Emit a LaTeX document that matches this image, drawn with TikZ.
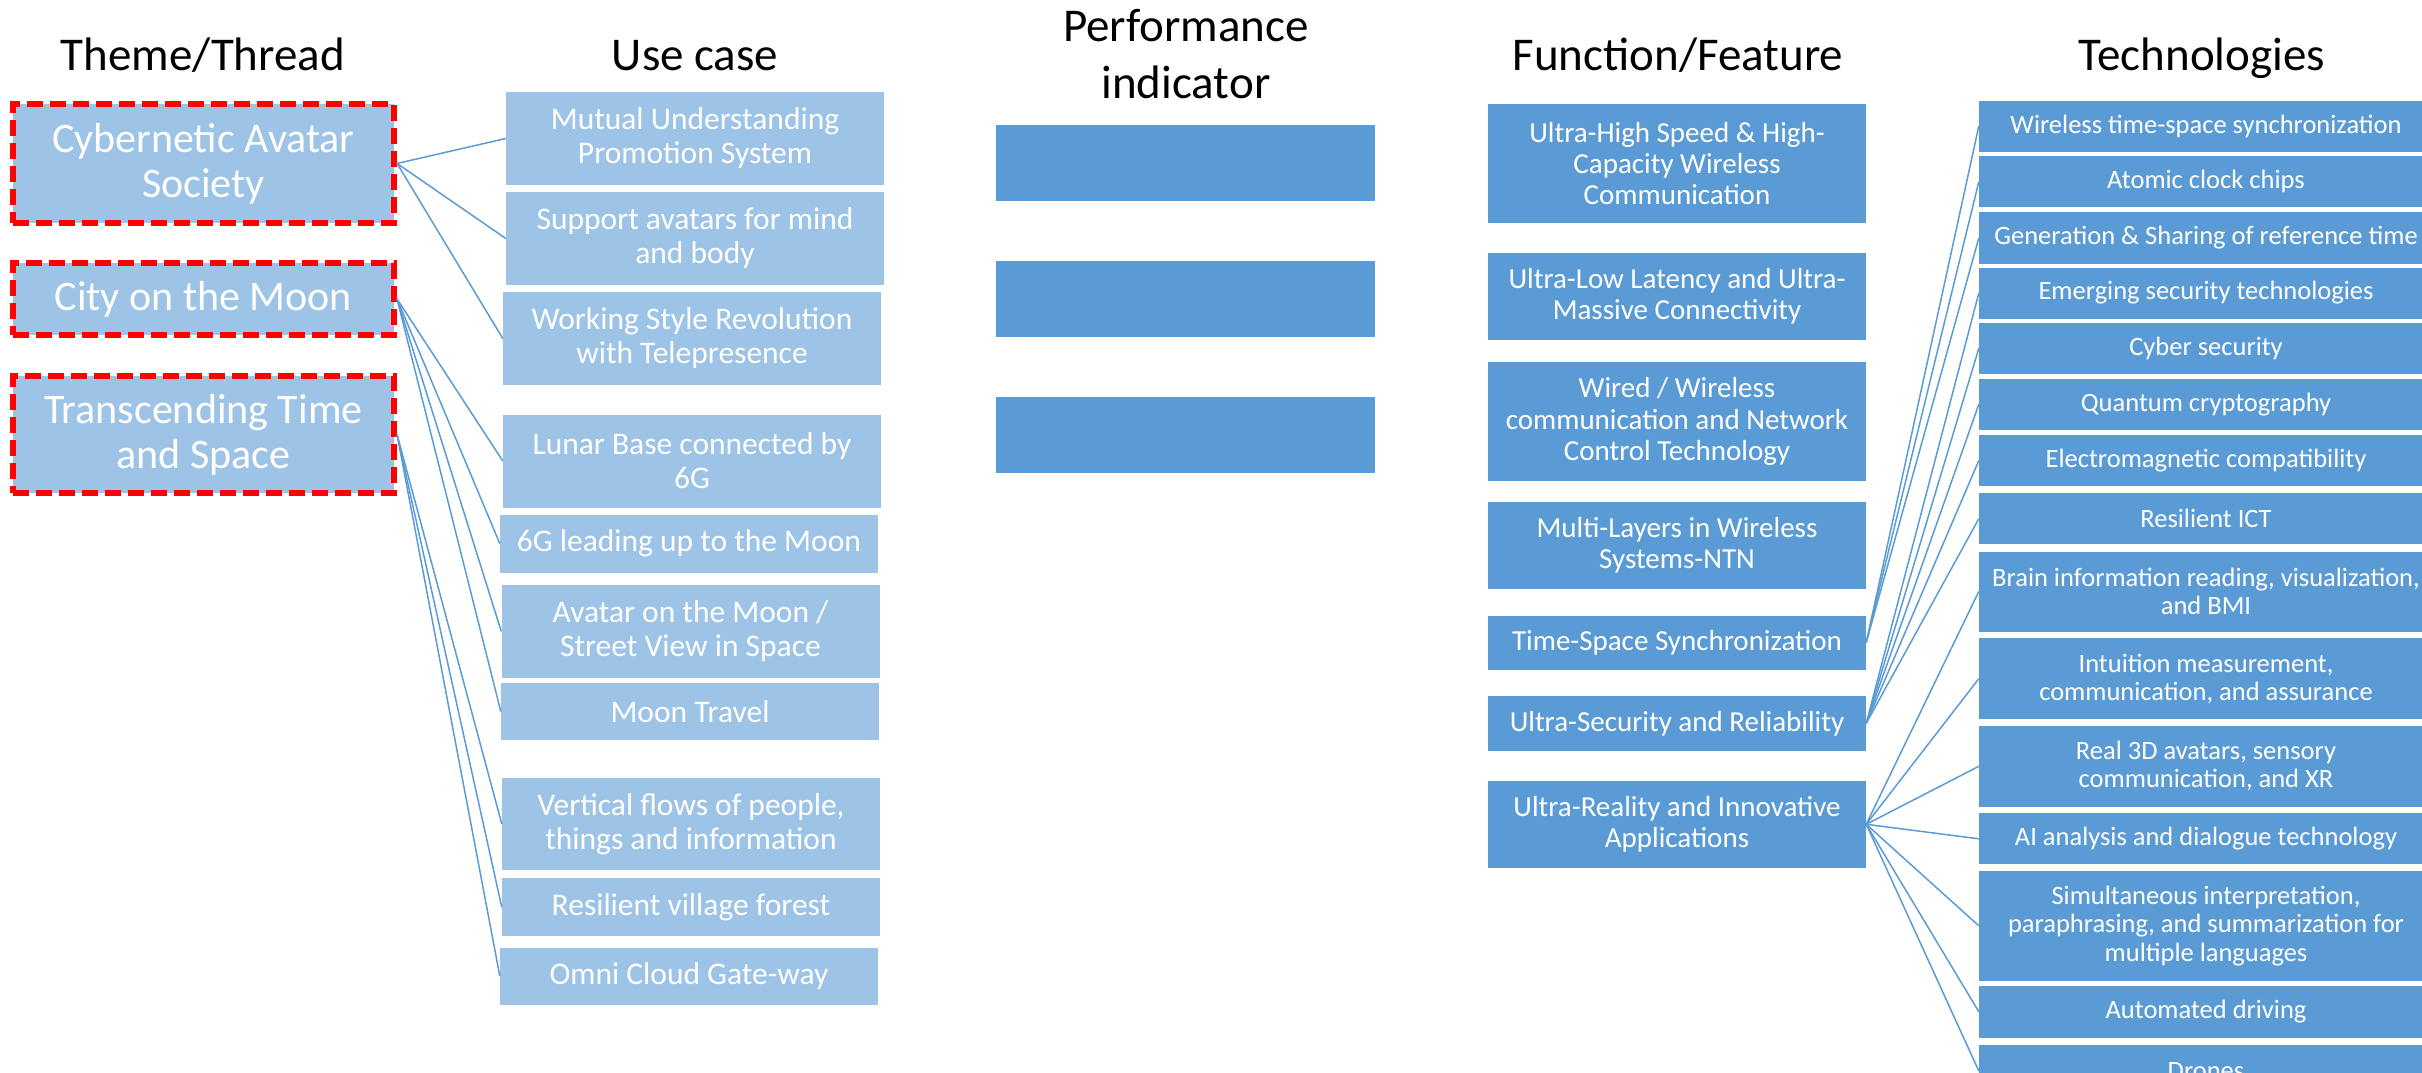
\documentclass[tikz,border=0pt]{standalone}
\usepackage{fontspec}
\setmainfont{Carlito}
\definecolor{lightblue}{HTML}{9DC3E6}
\definecolor{midblue}{HTML}{5B9BD5}
\begin{document}
\begin{tikzpicture}[x=1pt,y=-1pt,
  header/.style={font=\fontsize{47}{57}\selectfont, align=center, text=black, inner sep=0pt},
  themebox/.style={fill=lightblue, draw=red, line width=6.5pt, dash pattern=on 16pt off 7pt,
    text=white, align=center, inner sep=0pt, font=\fontsize{42}{45}\selectfont},
  usebox/.style={fill=lightblue, text=white, align=center, inner sep=0pt, font=\fontsize{31.5}{34}\selectfont},
  kpibox/.style={fill=midblue, inner sep=0pt},
  featbox/.style={fill=midblue, text=white, align=center, inner sep=0pt, font=\fontsize{29}{31.3}\selectfont},
  techbox/.style={fill=midblue, text=white, align=center, inner sep=0pt, font=\fontsize{26.5}{28.3}\selectfont},
  link/.style={draw=midblue, line width=1.5pt},
  wh/.style 2 args={minimum width=#1pt, minimum height=#2pt}
]
\path[use as bounding box] (0,0) rectangle (2422,1073);
\clip (0,0) rectangle (2422,1073);

% column headings
\node[header, anchor=base] (hTheme) at (203,70.7) {Theme/Thread};
\node[header, anchor=base] (hUse) at (695,70.7) {Use case};
\node[header] (hKpi) at (1186,54) {Performance\\indicator};
\node[header, anchor=base] (hFeat) at (1678,70.7) {Function/Feature};
\node[header, anchor=base] (hTech) at (2202,70.7) {Technologies};

% themes
\node[themebox, wh={381}{119}] (cyber) at (203.3,163.5) {Cybernetic Avatar\\Society};
\node[themebox, wh={381}{72}] (city) at (203.3,299) {City on the Moon};
\node[themebox, wh={381}{117}] (trans) at (203.3,434.5) {Transcending Time\\and Space};

% use cases
\node[usebox, wh={378}{93}] (mutual) at (695,138.5) {Mutual Understanding\\Promotion System};
\node[usebox, wh={378}{93}] (support) at (695,238.5) {Support avatars for mind\\and body};
\node[usebox, wh={378}{93}] (working) at (692,338.5) {Working Style Revolution\\with Telepresence};
\node[usebox, wh={378}{93}] (lunar) at (692,461) {Lunar Base connected by\\6G};
\node[usebox, wh={378}{58}] (sixg) at (689,543.5) {6G leading up to the Moon};
\node[usebox, wh={378}{93}] (avatar) at (690.5,631.5) {Avatar on the Moon /\\Street View in Space};
\node[usebox, wh={378}{57}] (travel) at (690,711.5) {Moon Travel};
\node[usebox, wh={378}{92}] (vertical) at (691,824) {Vertical flows of people,\\things and information};
\node[usebox, wh={378}{58}] (village) at (691,907.3) {Resilient village forest};
\node[usebox, wh={378}{57}] (omni) at (689,976) {Omni Cloud Gate-way};

% performance indicators (empty)
\node[kpibox, wh={379}{76}] (kpiA) at (1185.5,163) {};
\node[kpibox, wh={379}{76}] (kpiB) at (1185.5,299) {};
\node[kpibox, wh={379}{76}] (kpiC) at (1185.5,435) {};

% functions / features
\node[featbox, wh={378}{119}] (uhs) at (1677,163.5) {Ultra-High Speed \& High-\\Capacity Wireless\\Communication};
\node[featbox, wh={378}{87}] (ull) at (1677,296.5) {Ultra-Low Latency and Ultra-\\Massive Connectivity};
\node[featbox, wh={378}{119}] (wired) at (1677,421.5) {Wired / Wireless\\communication and Network\\Control Technology};
\node[featbox, wh={378}{87}] (multi) at (1677,545.5) {Multi-Layers in Wireless\\Systems-NTN};
\node[featbox, wh={378}{54}] (tss) at (1677,642.5) {Time-Space Synchronization};
\node[featbox, wh={378}{55}] (sec) at (1677,723.3) {Ultra-Security and Reliability};
\node[featbox, wh={378}{87}] (real) at (1677,824.3) {Ultra-Reality and Innovative\\Applications};

% technologies
\node[techbox, wh={454}{51}] (t1) at (2206,126) {Wireless time-space synchronization};
\node[techbox, wh={454}{51.5}] (t2) at (2206,181.7) {Atomic clock chips};
\node[techbox, wh={454}{52}] (t3) at (2206,238) {Generation \& Sharing of reference time};
\node[techbox, wh={454}{51}] (t4) at (2206,293) {Emerging security technologies};
\node[techbox, wh={454}{50.6}] (t5) at (2206,348.3) {Cyber security};
\node[techbox, wh={454}{51.4}] (t6) at (2206,404.3) {Quantum cryptography};
\node[techbox, wh={454}{51.8}] (t7) at (2206,460.5) {Electromagnetic compatibility};
\node[techbox, wh={454}{51}] (t8) at (2206,518.7) {Resilient ICT};
\node[techbox, wh={454}{80}] (t9) at (2206,591.5) {Brain information reading, visualization,\\and BMI};
\node[techbox, wh={454}{80.7}] (t10) at (2206,678.7) {Intuition measurement,\\communication, and assurance};
\node[techbox, wh={454}{80.7}] (t11) at (2206,766.3) {Real 3D avatars, sensory\\communication, and XR};
\node[techbox, wh={454}{51}] (t12) at (2206,838.8) {AI analysis and dialogue technology};
\node[techbox, wh={454}{109.7}] (t13) at (2206,925.8) {Simultaneous interpretation,\\paraphrasing, and summarization for\\multiple languages};
\node[techbox, wh={454}{51.7}] (t14) at (2206,1011.8) {Automated driving};
\node[techbox, wh={454}{52}] (t15) at (2206,1071) {Drones};

% connectors
\foreach \u in {mutual,support,working} \draw[link] (cyber.east) -- (\u.west);
\foreach \u in {lunar,sixg,avatar,travel} \draw[link] (city.east) -- (\u.west);
\foreach \u in {vertical,village,omni} \draw[link] (trans.east) -- (\u.west);
\foreach \t in {t1,t2,t3} \draw[link] (tss.east) -- (\t.west);
\foreach \t in {t4,t5,t6,t7,t8} \draw[link] (sec.east) -- (\t.west);
\foreach \t in {t9,t10,t11,t12,t13,t14,t15} \draw[link] (real.east) -- (\t.west);
\end{tikzpicture}
\end{document}
